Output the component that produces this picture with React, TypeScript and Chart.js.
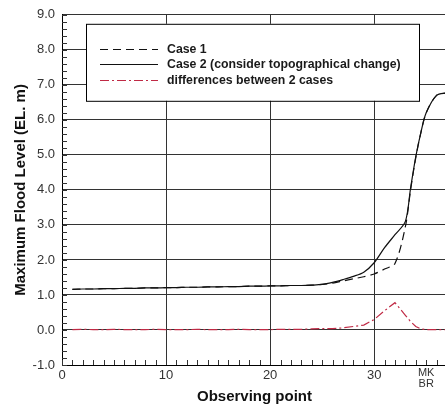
import React, { useEffect, useRef } from 'react';
import { Chart, registerables } from 'chart.js';

Chart.register(...registerables);

// Observing points (x) and series values (m)
const xPoints = [
  1, 2, 3, 4, 5, 6, 7, 8, 9, 10, 11, 12, 13, 14, 15, 16, 17, 18, 19, 20,
  21, 22, 23, 24, 25, 26, 27, 28, 29, 30, 31, 32, 33, 33.5, 34, 34.5, 35, 36, 37,
];
const case1 = [
  1.16, 1.17, 1.17, 1.18, 1.18, 1.19, 1.19, 1.2, 1.2, 1.21, 1.21, 1.22, 1.22, 1.23, 1.23, 1.24, 1.24, 1.25, 1.25, 1.26,
  1.26, 1.27, 1.27, 1.28, 1.3, 1.34, 1.4, 1.46, 1.52, 1.6, 1.74, 1.9, 2.95, 4.0, 4.92, 5.65, 6.2, 6.7, 6.77,
];
const case2 = [
  1.16, 1.17, 1.17, 1.18, 1.18, 1.19, 1.19, 1.2, 1.2, 1.21, 1.21, 1.22, 1.22, 1.23, 1.23, 1.24, 1.24, 1.25, 1.25, 1.26,
  1.26, 1.27, 1.27, 1.28, 1.3, 1.36, 1.44, 1.53, 1.65, 1.92, 2.35, 2.72, 3.1, 4.05, 4.95, 5.65, 6.2, 6.7, 6.77,
];
const diff = [
  0.01, 0.02, 0.01, 0.01, 0.02, 0.01, 0.01, 0.01, 0.02, 0.01, 0.01, 0.01, 0.02, 0.01, 0.01, 0.01, 0.02, 0.01, 0.01, 0.01,
  0.02, 0.02, 0.02, 0.03, 0.04, 0.04, 0.06, 0.1, 0.14, 0.3, 0.55, 0.78, 0.42, 0.24, 0.1, 0.03, 0.01, 0.01, 0.01,
];

const seriesLabels = [
  'Case 1',
  'Case 2 (consider topographical change)',
  'differences between 2 cases',
];
const xLabeledTicks = [0, 10, 20, 30];
const xSpecialTick = 35;
const xSpecialLabel = ['MK', 'BR'];
const xTitle = 'Observing point';
const yTitle = 'Maximum Flood Level (EL. m)';

const FONT = '"Liberation Sans", Arial, sans-serif';
const GRID = '#333333';

const isInt = (v: number) => Math.abs(v - Math.round(v)) < 1e-6;

const minorTicksPlugin = {
  id: 'minorTicks',
  beforeDatasetsDraw(chart: any) {
    const { ctx, chartArea, scales } = chart;
    ctx.save();
    ctx.strokeStyle = GRID;
    ctx.lineWidth = 1;
    ctx.beginPath();
    scales.y.ticks.forEach((t: any) => {
      const y = Math.round(scales.y.getPixelForValue(t.value)) + 0.5;
      ctx.moveTo(chartArea.left, y);
      ctx.lineTo(chartArea.left + 5, y);
    });
    scales.x.ticks.forEach((t: any) => {
      const x = Math.round(scales.x.getPixelForValue(t.value)) + 0.5;
      ctx.moveTo(x, chartArea.bottom);
      ctx.lineTo(x, chartArea.bottom - 5);
    });
    ctx.stroke();
    ctx.restore();
  },
};

const boxLegendPlugin = {
  id: 'boxLegend',
  afterDraw(chart: any) {
    const { ctx, chartArea } = chart;
    const x0 = chartArea.left + 24;
    const y0 = chartArea.top + 9;
    const w = 333;
    const h = 77;
    ctx.save();
    ctx.fillStyle = '#ffffff';
    ctx.fillRect(x0, y0, w, h);
    ctx.strokeStyle = '#000000';
    ctx.lineWidth = 1;
    ctx.strokeRect(x0 + 0.5, y0 + 0.5, w, h);
    chart.data.datasets.forEach((ds: any, i: number) => {
      const y = Math.round(y0 + 25 + i * 15.5) + 0.5;
      ctx.setLineDash(ds.borderDash || []);
      ctx.strokeStyle = ds.borderColor;
      ctx.lineWidth = 1.2;
      ctx.beginPath();
      ctx.moveTo(x0 + 14, y);
      ctx.lineTo(x0 + 72, y);
      ctx.stroke();
      ctx.setLineDash([]);
      ctx.fillStyle = '#1a1a1a';
      ctx.font = `bold 12.3px ${FONT}`;
      ctx.textBaseline = 'middle';
      ctx.fillText(ds.label, x0 + 81, y);
    });
    ctx.restore();
  },
};

export default function App() {
  const canvasRef = useRef<HTMLCanvasElement | null>(null);

  useEffect(() => {
    if (!canvasRef.current) return;
    const toPts = (vals: number[]) => xPoints.map((x, i) => ({ x, y: vals[i] }));
    const chart = new Chart(canvasRef.current, {
      type: 'line',
      data: {
        datasets: [
          {
            label: seriesLabels[0],
            data: toPts(case1),
            borderColor: '#111111',
            borderWidth: 1.2,
            borderDash: [8, 5],
            pointRadius: 0,
            tension: 0.3,
            fill: false,
          },
          {
            label: seriesLabels[1],
            data: toPts(case2),
            borderColor: '#111111',
            borderWidth: 1.2,
            pointRadius: 0,
            tension: 0.3,
            fill: false,
          },
          {
            label: seriesLabels[2],
            data: toPts(diff),
            borderColor: '#c02a45',
            borderWidth: 1.2,
            borderDash: [9, 3, 2, 3],
            pointRadius: 0,
            fill: false,
          },
        ],
      },
      options: {
        responsive: false,
        animation: false,
        maintainAspectRatio: false,
        layout: { padding: { top: 11, left: 0, right: 0, bottom: 0 } },
        plugins: {
          legend: { display: false },
          tooltip: { enabled: false },
        },
        scales: {
          x: {
            type: 'linear',
            min: 0,
            max: 37,
            border: { display: true, color: '#000', width: 1 },
            grid: {
              drawTicks: false,
              color: (c: any) => (c.tick && isInt(c.tick.value / 10) ? GRID : 'rgba(0,0,0,0)'),
              lineWidth: 1,
            },
            ticks: {
              stepSize: 1,
              autoSkip: false,
              maxRotation: 0,
              padding: 3,
              color: '#333',
              font: (c: any) =>
                c.tick && c.tick.value === xSpecialTick
                  ? { family: FONT, size: 11, lineHeight: 0.95 }
                  : { family: FONT, size: 13 },
              callback: (v: any) => {
                const n = Number(v);
                if (xLabeledTicks.includes(n)) return String(n);
                if (n === xSpecialTick) return xSpecialLabel;
                return '';
              },
            },
            title: {
              display: true,
              text: xTitle,
              color: '#111',
              font: { family: FONT, size: 15, weight: 'bold' },
              padding: { top: 0, bottom: 3 },
            },
            afterFit: (s: any) => {
              s.height = 44;
            },
          },
          y: {
            type: 'linear',
            min: -1,
            max: 9,
            border: { display: true, color: '#000', width: 1 },
            grid: {
              drawTicks: false,
              color: (c: any) => (c.tick && isInt(c.tick.value) ? GRID : 'rgba(0,0,0,0)'),
              lineWidth: 1,
            },
            ticks: {
              stepSize: 0.2,
              autoSkip: false,
              padding: 7,
              color: '#333',
              font: { family: FONT, size: 13 },
              callback: (v: any) => {
                const n = Number(v);
                return isInt(n) ? Math.round(n).toFixed(1) : '';
              },
            },
            title: {
              display: true,
              text: yTitle,
              color: '#111',
              font: { family: FONT, size: 15, weight: 'bold' },
              padding: { top: 12, bottom: 0 },
            },
            afterFit: (s: any) => {
              s.width = 62;
            },
          },
        },
      } as any,
      plugins: [minorTicksPlugin, boxLegendPlugin],
    });
    return () => chart.destroy();
  }, []);

  return (
    <div
      style={{
        position: 'fixed',
        left: 0,
        top: 0,
        width: 445,
        height: 409,
        overflow: 'hidden',
        background: '#fff',
      }}
    >
      <canvas ref={canvasRef} width={450} height={409} style={{ display: 'block' }} />
    </div>
  );
}
